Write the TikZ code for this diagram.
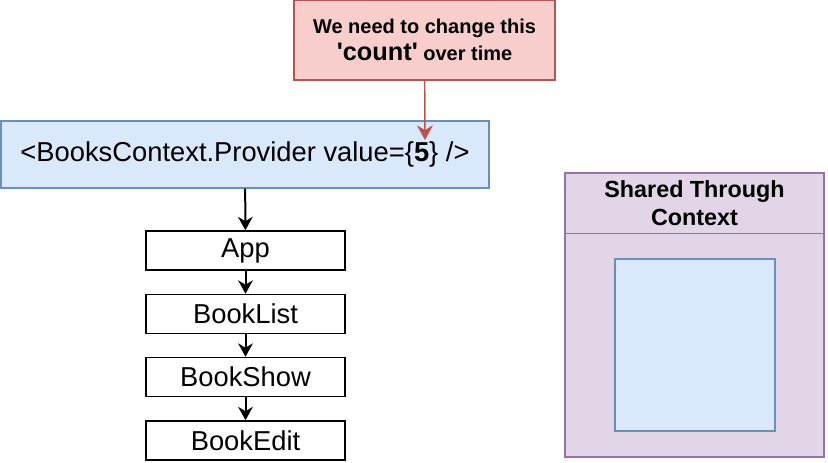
\documentclass[tikz,border=0pt]{standalone}
\usepackage{fontspec}
\setmainfont{Liberation Sans}
\usetikzlibrary{arrows.meta}
\definecolor{redfill}{HTML}{F8CECC}
\definecolor{redline}{HTML}{B85450}
\definecolor{bluefill}{HTML}{DAE8FC}
\definecolor{blueline}{HTML}{6C8EBF}
\definecolor{purplefill}{HTML}{E1D5E7}
\definecolor{purpleline}{HTML}{9673A6}
\begin{document}
\begin{tikzpicture}[x=0.75pt,y=-0.75pt,
    compbox/.style={draw,line width=1.2pt,fill=white,minimum width=149.25pt,minimum height=29.25pt,inner sep=0pt,font=\fontsize{20.5}{24}\selectfont},
    flow/.style={-{Stealth[length=10pt,width=11pt]},line width=1.5pt}]
        \useasboundingbox (0,0) rectangle (828,462);
        \node[draw=redline,fill=redfill,line width=1.1pt,minimum width=195.75pt,minimum height=60pt,align=center,font=\bfseries\fontsize{15}{20}\selectfont] (note) at (424.5,40)
          {We need to change this\\{\fontsize{19}{20}\selectfont \textquotesingle count\textquotesingle} over time};
        \node[draw=blueline,fill=bluefill,line width=1.1pt,minimum width=366pt,minimum height=50.25pt,font=\fontsize{20.5}{24}\selectfont] (provider) at (245,154.5)
          {<BooksContext.Provider value=\{\textbf{5}\} />};
        \coordinate (five) at (425,140);
        \draw[redline,line width=1.1pt,-{Stealth[length=11pt,width=12pt]}] (note) -- (five);
        \node[compbox] (app) at (245.5,250.5) {App};
        \node[compbox] (list) at (245.5,314) {BookList};
        \node[compbox] (show) at (245.5,377) {BookShow};
        \node[compbox] (edit) at (245.5,440.5) {BookEdit};
        \draw[flow] (provider) -- (app);
        \draw[flow] (app) -- (list);
        \draw[flow] (list) -- (show);
        \draw[flow] (show) -- (edit);
        \node[draw=purpleline,fill=purplefill,line width=1.1pt,minimum width=194.25pt,minimum height=213pt] (shared) at (694.5,315) {};
        \node[minimum width=194.25pt,minimum height=45pt,align=center,font=\bfseries\fontsize{17.5}{21}\selectfont] (title) at (694.5,203) {Shared Through\\Context};
        \draw[purpleline,line width=1.1pt] (shared.west |- title.south) -- (shared.east |- title.south);
        \node[draw=blueline,fill=bluefill,line width=1.1pt,minimum width=120pt,minimum height=129pt] (inner) at (695,345) {};
      \end{tikzpicture}
\end{document}
